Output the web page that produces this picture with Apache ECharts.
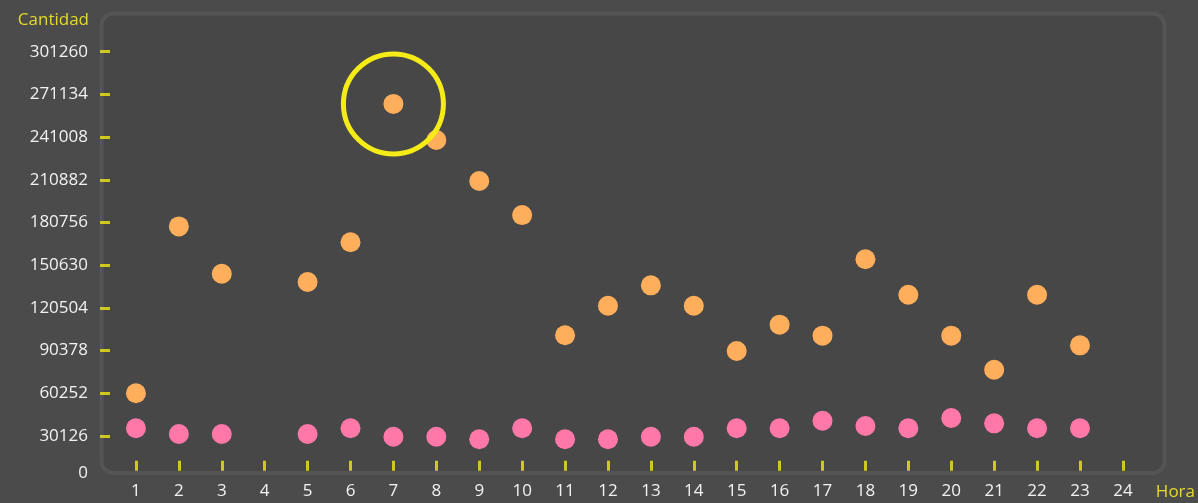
<!DOCTYPE html>
<html>
<head>
<meta charset="utf-8">
<script src="https://cdn.jsdelivr.net/npm/echarts@6/dist/echarts.min.js"></script>
<style>
  html, body { margin: 0; padding: 0; background: #4b4b4b; }
  #chart { width: 1198px; height: 503px; }
</style>
</head>
<body>
<div id="chart"></div>
<script>
// Hours of the day (category axis)
const hours = ['1','2','3','4','5','6','7','8','9','10','11','12','13','14','15','16','17','18','19','20','21','22','23','24'];

// Counts per hour, upper group (orange)
const totalValues = [60252, 178000, 144600, null, 138800, 166800, 264400, 239000, 210000, 186000, 101200, 122000,
                     136400, 122000, 90100, 108700, 100900, 154800, 129800, 100900, 76900, 129800, 94100, null];

// Counts per hour, lower group (pink)
const partialValues = [35560, 31540, 31540, null, 31540, 35560, 29630, 29630, 27800, 35560, 27800, 27800,
                       29630, 29630, 35560, 35560, 40920, 37180, 35560, 42820, 39080, 35560, 35560, null];

// Y axis tick values
const yStep = 30126;
const yTickValues = [0, 30126, 60252, 90378, 120504, 150630, 180756, 210882, 241008, 271134, 301260];

const FONT = '"Open Sans", sans-serif';
const TICK_YELLOW = '#cfc722';
const NAME_YELLOW = '#e4da2a';
const LABEL_WHITE = '#f2f2f2';

const chart = echarts.init(document.getElementById('chart'), null, { renderer: 'canvas' });

const option = {
  backgroundColor: '#4b4b4b',
  animation: false,
  graphic: [{
    type: 'rect',
    silent: true,
    z: -10,
    shape: { x: 101.5, y: 13.5, width: 1063, height: 459.5, r: 12 },
    style: { fill: '#474747', stroke: '#545454', lineWidth: 4 }
  }],
  grid: { left: 114.5, right: 52.5, top: 51.7, bottom: 24.3, containLabel: false },
  xAxis: {
    type: 'category',
    data: hours,
    offset: -8,
    name: 'Hora',
    nameLocation: 'end',
    nameGap: 11.5,
    nameTextStyle: { color: NAME_YELLOW, fontSize: 17, fontFamily: FONT, verticalAlign: 'top', padding: [13, 0, 0, 0] },
    axisLine: { show: false },
    axisTick: { show: true, inside: true, length: 10, alignWithLabel: true, lineStyle: { color: TICK_YELLOW, width: 3 } },
    axisLabel: { color: LABEL_WHITE, fontSize: 17, fontFamily: FONT, margin: 12 },
    splitLine: { show: false }
  },
  yAxis: {
    type: 'value',
    min: 0,
    max: yTickValues[yTickValues.length - 1],
    interval: yStep,
    offset: 14.5,
    name: 'Cantidad',
    nameLocation: 'end',
    nameGap: 23,
    nameTextStyle: { color: NAME_YELLOW, fontSize: 17, fontFamily: FONT, align: 'right', padding: [0, 11, 0, 0] },
    axisLine: { show: false },
    axisTick: {
      show: true, inside: true, length: 10,
      customValues: yTickValues.slice(1),
      lineStyle: { color: TICK_YELLOW, width: 3 }
    },
    axisLabel: {
      customValues: yTickValues,
      color: LABEL_WHITE, fontSize: 17, fontFamily: FONT, margin: 12,
      formatter: v => (v === 0 ? '{z|0}' : String(v)),
      rich: { z: { color: LABEL_WHITE, fontSize: 17, fontFamily: FONT, padding: [0, 0, 12, 0] } }
    },
    splitLine: { show: false }
  },
  series: [
    {
      name: 'total',
      type: 'scatter',
      data: totalValues,
      symbol: 'circle',
      symbolSize: 20,
      itemStyle: { color: '#ffae5c', opacity: 1 },
      z: 3,
      markPoint: {
        symbol: 'circle',
        symbolSize: 100,
        silent: true,
        label: { show: false },
        itemStyle: { color: 'rgba(0,0,0,0)', borderColor: '#f5ec17', borderWidth: 5 },
        data: [{ type: 'max' }]
      }
    },
    {
      name: 'parcial',
      type: 'scatter',
      data: partialValues,
      symbol: 'circle',
      symbolSize: 20,
      itemStyle: { color: '#ff78a8', opacity: 1 },
      z: 3
    }
  ]
};

chart.setOption(option);
</script>
</body>
</html>
